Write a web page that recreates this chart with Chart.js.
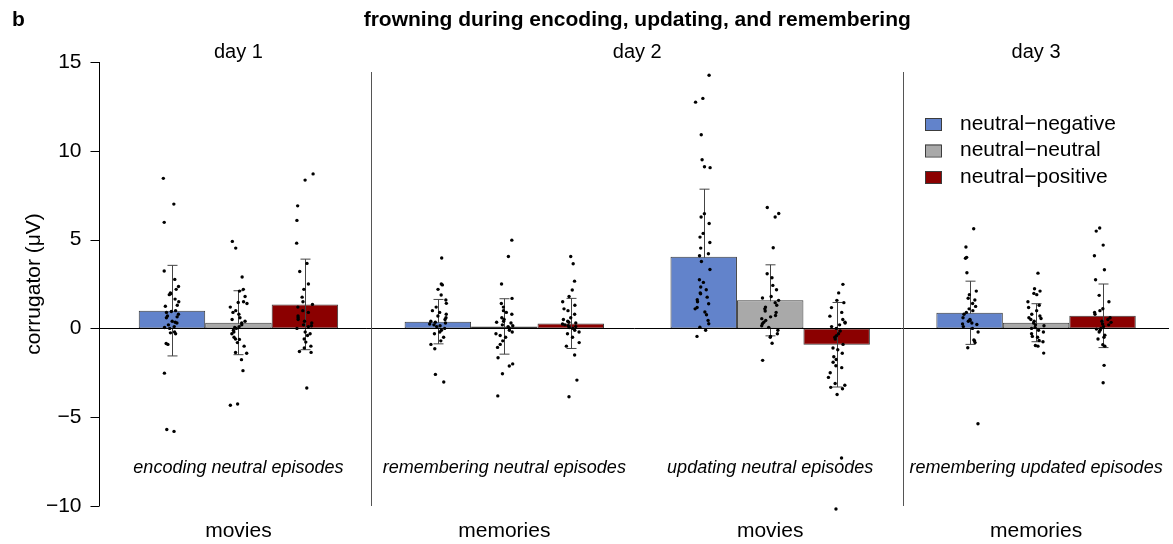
<!DOCTYPE html>
<html>
<head>
<meta charset="utf-8">
<script src="https://cdn.jsdelivr.net/npm/chart.js@4.4.0/dist/chart.umd.min.js"></script>
<style>
  body { margin: 0; background: #fff; }
  #wrap { width: 1173px; height: 544px; }
</style>
</head>
<body>
<div id="wrap"><canvas id="frownChart" width="1173" height="544"></canvas></div>
<script>
// categorii si etichete
const categories = ['movies', 'memories', 'movies', 'memories'];
const dayLabels = ['day 1', 'day 2', 'day 2', 'day 3'];
const conditions = ['encoding neutral episodes', 'remembering neutral episodes', 'updating neutral episodes', 'remembering updated episodes'];
const seriesNames = ['neutral\u2212negative', 'neutral\u2212neutral', 'neutral\u2212positive'];
const seriesColors = ['#6283cb', '#a9a9a9', '#8b0000'];
const yTicks = [-10, -5, 0, 5, 10, 15];

// medii si abateri (bare + bare de eroare)
const negMeans = [1.0, 0.38, 4.04, 0.88];
const neuMeans = [0.32, 0.11, 1.58, 0.32];
const posMeans = [1.35, 0.28, -0.92, 0.71];
const negSD = [2.55, 1.25, 3.8, 1.78];
const neuSD = [1.8, 1.56, 2.0, 1.07];
const posSD = [2.55, 1.41, 2.38, 1.79];

// valori individuale (puncte)
const negPoints = [
  [8.45, 7.0, 5.97, 3.23, 2.76, 2.36, 2.0, 1.95, 1.9, 1.65, 1.3, 1.25, 0.95, 0.9, 1.0, 0.65, 0.7, 0.6, 0.35, 0.3, 0.4, 0.05, 0.1, 0.0, -0.25, -0.2, -0.3, -0.85, -0.9, -2.52, -5.69, -5.8, 1.5, 0.2, 2.2, 0.8],
  [3.96, 2.5, 2.45, 2.2, 1.88, 1.6, 1.41, 1.2, 1.0, 0.9, 0.7, 0.6, 0.5, 0.4, 0.35, 0.3, 0.2, 0.15, 0.1, 0.0, -0.1, -0.2, -0.3, -0.5, -0.7, -0.9, -1.15, -2.59, -3.02, 0.8, 0.25],
  [14.25, 12.95, 12.74, 10.9, 9.5, 9.1, 9.05, 6.46, 6.27, 5.91, 5.35, 5.14, 4.84, 4.52, 4.2, 4.09, 3.77, 3.32, 2.74, 2.59, 2.33, 2.18, 1.95, 1.76, 1.61, 1.39, 1.18, 0.92, 0.77, 0.45, 0.26, 0.07, -0.1, -0.45, 1.5, 2.0, 1.1],
  [5.61, 4.58, 4.0, 3.95, 3.13, 2.1, 1.9, 1.7, 1.6, 1.4, 1.24, 1.1, 1.0, 0.9, 0.8, 0.6, 0.45, 0.4, 0.3, 0.22, 0.1, 0.0, -0.2, -0.65, -0.7, -0.8, -1.09, -5.37, 0.5, 0.25]
];
const neuPoints = [
  [4.9, 4.52, 2.89, 2.2, 2.1, 1.8, 1.46, 1.5, 1.4, 1.2, 1.0, 0.9, 0.8, 0.6, 0.5, 0.4, 0.3, 0.2, 0.1, 0.05, 0.0, -0.1, -0.2, -0.3, -0.5, -0.6, -0.62, -0.8, -1.0, -1.36, -1.4, -1.76, -2.38, -4.26, -4.33],
  [4.97, 4.05, 2.5, 1.69, 1.4, 1.2, 1.0, 0.9, 0.8, 0.6, 0.5, 0.4, 0.3, 0.2, 0.1, 0.0, -0.1, -0.2, -0.3, -0.4, -0.5, -0.7, -0.9, -1.07, -1.65, -2.0, -2.12, -2.55, -3.8, 0.15, 0.35],
  [6.81, 6.47, 6.27, 4.54, 3.08, 2.85, 2.42, 2.18, 1.8, 1.71, 1.58, 1.45, 1.3, 1.2, 1.1, 0.98, 0.9, 0.73, 0.65, 0.55, 0.45, 0.35, 0.26, 0.15, 0.05, -0.1, -0.3, -0.45, -0.5, -0.84, -1.8],
  [3.11, 2.23, 2.1, 1.97, 1.9, 1.5, 1.3, 1.18, 1.0, 0.8, 0.7, 0.56, 0.5, 0.4, 0.3, 0.2, 0.15, 0.05, 0.0, -0.1, -0.2, -0.3, -0.45, -0.5, -0.68, -0.75, -0.96, -1.0, -1.39, 0.6]
];
const posPoints = [
  [8.7, 8.35, 6.9, 6.08, 4.8, 3.66, 3.2, 2.5, 2.2, 1.76, 1.5, 1.35, 1.2, 1.0, 0.9, 0.7, 0.6, 0.5, 0.4, 0.3, 0.2, 0.15, 0.1, 0.0, -0.2, -0.3, -0.4, -0.6, -0.77, -1.0, -1.1, -1.3, -1.35, -3.36],
  [4.05, 3.64, 2.66, 2.16, 1.8, 1.5, 1.3, 1.1, 1.0, 0.8, 0.6, 0.5, 0.4, 0.3, 0.25, 0.2, 0.1, 0.05, 0.0, -0.1, -0.2, -0.3, -0.5, -0.8, -1.0, -1.5, -2.91, -3.85, 0.35, 0.15],
  [2.48, 2.0, 1.58, 1.45, 1.17, 0.9, 0.69, 0.5, 0.35, 0.2, 0.1, 0.0, -0.15, -0.3, -0.41, -0.6, -0.9, -1.1, -1.2, -1.4, -1.6, -1.75, -1.91, -2.1, -2.21, -2.5, -2.76, -3.1, -3.2, -3.32, -3.4, -3.72, -7.3, -10.17, 0.3, -0.5],
  [5.65, 5.48, 4.69, 4.09, 3.3, 2.74, 1.86, 1.5, 1.11, 1.0, 0.9, 0.8, 0.6, 0.5, 0.34, 0.25, 0.1, 0.0, -0.04, -0.1, -0.2, -0.38, -0.5, -0.6, -0.92, -1.0, -2.08, -3.06, 0.4, 0.2]
];

const allMeans = [negMeans, neuMeans, posMeans];
const allSD = [negSD, neuSD, posSD];
const allPoints = [negPoints, neuPoints, posPoints];

const FONT = '"Liberation Sans", Arial, Helvetica, sans-serif';

// decalaj orizontal fix (hash determinist), doar pentru a imprastia punctele
function jitter(s, cat, j) {
  const h = Math.sin((s * 97 + cat * 31 + j * 13.7) * 12.9898) * 43758.5453;
  return (h - Math.floor(h)) - 0.5;
}

function buildPoints(s) {
  const out = [];
  allPoints[s].forEach((vals, cat) => {
    const center = cat + (s - 1) * 0.25;
    vals.forEach((v, j) => {
      out.push({ x: center + jitter(s, cat, j) * 0.065, y: v });
    });
  });
  return out;
}

const datasets = [];
for (let s = 0; s < 3; s++) {
  datasets.push({
    type: 'bar',
    label: seriesNames[s],
    data: allMeans[s].map((m, i) => ({ x: i, y: m })),
    backgroundColor: seriesColors[s],
    borderColor: '#3c3c3c',
    borderWidth: 1,
    borderSkipped: false,
    categoryPercentage: 0.75,
    barPercentage: 1.0,
    order: 2
  });
}
for (let s = 0; s < 3; s++) {
  datasets.push({
    type: 'scatter',
    label: 'pts' + s,
    data: buildPoints(s),
    backgroundColor: '#000',
    borderColor: '#000',
    pointRadius: 1.7,
    pointBorderWidth: 0,
    clip: false,
    order: 0
  });
}

// decoratiuni in stil R: axa y, separatoare, etichete, legenda
const decorPlugin = {
  id: 'decor',
  afterDatasetDraw(chart, args) {
    if (args.index !== 2) return;
    const ctx = chart.ctx;
    const y = chart.scales.y;
    ctx.save();
    ctx.strokeStyle = '#444';
    ctx.lineWidth = 1;
    for (let s = 0; s < 3; s++) {
      const meta = chart.getDatasetMeta(s);
      meta.data.forEach((bar, i) => {
        const x = Math.round(bar.x) + 0.5;
        const top = y.getPixelForValue(allMeans[s][i] + allSD[s][i]);
        const bot = y.getPixelForValue(allMeans[s][i] - allSD[s][i]);
        ctx.beginPath();
        ctx.moveTo(x, top); ctx.lineTo(x, bot);
        ctx.moveTo(x - 5, top); ctx.lineTo(x + 5, top);
        ctx.moveTo(x - 5, bot); ctx.lineTo(x + 5, bot);
        ctx.stroke();
      });
    }
    ctx.restore();
  },
  afterDraw(chart) {
    const ctx = chart.ctx;
    const area = chart.chartArea;
    const y = chart.scales.y;
    const x = chart.scales.x;
    const axisX = Math.round(area.left - 7) + 0.5;
    ctx.save();

    // axa y
    ctx.strokeStyle = '#000';
    ctx.lineWidth = 1;
    ctx.beginPath();
    ctx.moveTo(axisX, y.getPixelForValue(yTicks[yTicks.length - 1]));
    ctx.lineTo(axisX, y.getPixelForValue(yTicks[0]));
    yTicks.forEach(t => {
      const py = Math.round(y.getPixelForValue(t)) + 0.5;
      ctx.moveTo(axisX - 9, py);
      ctx.lineTo(axisX, py);
    });
    ctx.stroke();

    // linia zero
    const y0 = Math.round(y.getPixelForValue(0)) + 0.5;
    ctx.beginPath();
    ctx.moveTo(axisX, y0);
    ctx.lineTo(area.right, y0);
    ctx.stroke();

    // separatoare intre zile
    ctx.strokeStyle = '#555';
    ctx.beginPath();
    for (let i = 1; i < categories.length; i++) {
      if (dayLabels[i] !== dayLabels[i - 1]) {
        const sx = Math.round(x.getPixelForValue(i - 0.5)) + 0.5;
        ctx.moveTo(sx, area.top + 10);
        ctx.lineTo(sx, area.bottom);
      }
    }
    ctx.stroke();

    ctx.fillStyle = '#000';
    ctx.textBaseline = 'middle';
    ctx.textAlign = 'center';

    // etichete zile
    ctx.font = '20px ' + FONT;
    let start = 0;
    for (let i = 1; i <= dayLabels.length; i++) {
      if (i === dayLabels.length || dayLabels[i] !== dayLabels[start]) {
        const cx = x.getPixelForValue((start + i - 1) / 2);
        ctx.fillText(dayLabels[start], cx, area.top - 10);
        start = i;
      }
    }

    // conditii (italic)
    ctx.font = 'italic 18px ' + FONT;
    conditions.forEach((c, i) => {
      ctx.fillText(c, x.getPixelForValue(i), area.bottom - 38);
    });

    // titlu
    ctx.font = 'bold 21px ' + FONT;
    ctx.fillText('frowning during encoding, updating, and remembering', (area.left + area.right) / 2, 20);
    ctx.textAlign = 'left';
    ctx.fillText('b', 12, 20);

    // legenda
    ctx.font = '21px ' + FONT;
    seriesNames.forEach((name, s) => {
      const ly = 124 + s * 26.5;
      ctx.fillStyle = seriesColors[s];
      ctx.fillRect(925, ly - 6, 16, 12);
      ctx.strokeStyle = '#3c3c3c';
      ctx.strokeRect(925.5, ly - 5.5, 16, 12);
      ctx.fillStyle = '#000';
      ctx.fillText(name, 960, ly);
    });

    ctx.restore();
  }
};

const ctx = document.getElementById('frownChart').getContext('2d');
const frownChart = new Chart(ctx, {
  data: {
    datasets: datasets
  },
  options: {
    responsive: false,
    animation: false,
    layout: {
      padding: { top: 62, left: 0, right: 0, bottom: 0 }
    },
    plugins: {
      legend: { display: false },
      tooltip: { enabled: false }
    },
    scales: {
      x: {
        type: 'linear',
        min: -0.5,
        max: categories.length - 0.5,
        offset: false,
        grid: { display: false, drawTicks: false },
        border: { display: false },
        afterBuildTicks: function(scale) {
          scale.ticks = categories.map((c, i) => ({ value: i }));
        },
        ticks: {
          color: '#000',
          font: { size: 21, family: FONT },
          padding: 13,
          maxRotation: 0,
          autoSkip: false,
          callback: function(value) { return categories[value]; }
        },
        afterFit: function(scale) { scale.height = 38; }
      },
      y: {
        type: 'linear',
        min: -10,
        max: 15,
        grid: { display: false, drawTicks: false },
        border: { display: false },
        ticks: {
          stepSize: 5,
          color: '#000',
          font: { size: 21, family: FONT },
          padding: 24,
          callback: function(value) {
            return value < 0 ? '\u2212' + Math.abs(value) : value;
          }
        },
        title: {
          display: true,
          text: 'corrugator (\u03bcV)',
          color: '#000',
          font: { size: 21, family: FONT },
          padding: { top: 22, bottom: 0 }
        },
        afterFit: function(scale) { scale.width = 105.5; }
      }
    }
  },
  plugins: [decorPlugin]
});
</script>
</body>
</html>
